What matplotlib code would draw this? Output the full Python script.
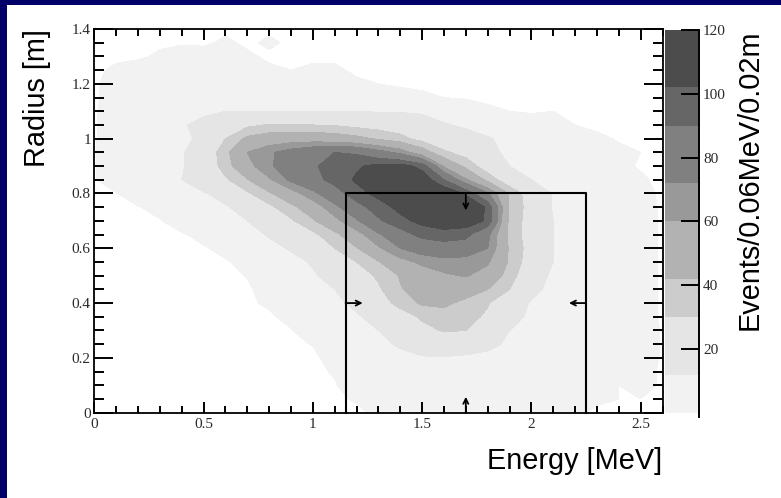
import numpy as np
import matplotlib
matplotlib.use("Agg")
from matplotlib import pyplot as plt
from matplotlib.colors import ListedColormap, BoundaryNorm
from matplotlib.cm import ScalarMappable
from matplotlib.patches import Rectangle
from matplotlib.ticker import MultipleLocator, FormatStrFormatter

# grid of the event map: energy [MeV] along x, radius [m] along y
energy = [0.0, 0.1, 0.2, 0.3, 0.4, 0.5, 0.6, 0.7, 0.8, 0.9, 1.0, 1.1, 1.2, 1.3,
          1.4, 1.5, 1.6, 1.7, 1.8, 1.9, 2.0, 2.1, 2.2, 2.3, 2.4, 2.5, 2.6]
radius = [1.40, 1.35, 1.30, 1.25, 1.20, 1.15, 1.10, 1.05, 1.00, 0.95, 0.90,
          0.85, 0.80, 0.75, 0.70, 0.65, 0.60, 0.55, 0.50, 0.45, 0.40, 0.35,
          0.30, 0.25, 0.20, 0.15, 0.10, 0.05, 0.00]

# events / 0.06 MeV / 0.02 m, one row per radius (top row = largest radius)
counts = [
    [0, 0, 0, 0, 0, 0, 0, 0, 0, 0, 0, 0, 0, 0, 0, 0, 0, 0, 0, 0, 0, 0, 0, 0, 0, 0, 0],
    [0, 0, 0, 0, 0, 0, 1, 0, 1, 0, 0, 0, 0, 0, 0, 0, 0, 0, 0, 0, 0, 0, 0, 0, 0, 0, 0],
    [0, 0, 0, 1, 3, 2, 2, 1, 0, 0, 0, 0, 0, 0, 0, 0, 0, 0, 0, 0, 0, 0, 0, 0, 0, 0, 0],
    [0, 1, 2, 3, 4, 4, 3, 2, 1, 0.5, 1, 1, 0, 0, 0, 0, 0, 0, 0, 0, 0, 0, 0, 0, 0, 0, 0],
    [0, 2, 3, 4, 5, 5, 4, 3, 2, 2, 3, 2, 1, 0.5, 0, 0, 0, 0, 0, 0, 0, 0, 0, 0, 0, 0, 0],
    [0, 2, 4, 5, 6, 7, 7, 7, 6, 6, 6, 5, 4, 3, 2, 1, 0.5, 0, 0, 0, 0, 0, 0, 0, 0, 0, 0],
    [0, 3, 5, 6, 8, 10, 12, 12, 12, 12, 12, 12, 12, 11, 11, 10, 7, 4, 1, 0.5, 0, 0.5, 0, 0, 0, 0, 0],
    [0, 4, 6, 8, 11, 15, 22, 27, 31, 31, 30, 29, 26, 24, 22, 19, 13, 10, 7, 5, 3, 1.5, 0.5, 0, 0, 0, 0],
    [0, 4, 6, 8, 10, 14, 30, 45, 50, 52, 52, 50, 46, 40, 34, 25, 20, 17, 13, 9, 6, 4, 3, 1, 0.3, 0, 0],
    [0, 5, 7, 9, 11, 18, 38, 60, 70, 78, 85, 90, 88, 78, 68, 50, 32, 25, 16, 9, 7, 5, 4, 3, 1, 0.5, 0],
    [0, 5, 7, 9, 11, 18, 36, 55, 70, 80, 88, 96, 100, 106, 107, 98, 58, 38, 22, 12, 8, 6, 4, 3, 1, 0.3, 0],
    [0, 4, 7, 9, 12, 20, 28, 41, 58, 75, 86, 94, 104, 112, 116, 110, 90, 62, 38, 20, 12, 7, 5, 4, 2, 0.8, 0],
    [0, 0.3, 3, 7, 9, 11, 16, 28, 40, 54, 68, 84, 97, 106, 112, 116, 114, 100, 74, 40, 22, 11, 7, 5, 3, 1.5, 0],
    [0, 0, 0.3, 2, 7, 9, 11, 16, 27, 38, 52, 68, 85, 96, 106, 114, 118, 114, 100, 40, 24, 11, 7, 5, 3, 2, 0],
    [0, 0, 0, 0.2, 3, 6, 9, 12, 18, 28, 40, 56, 70, 88, 98, 106, 112, 110, 100, 38, 24, 12, 8, 6, 4, 2, 0],
    [0, 0, 0, 0, 0, 2, 5, 8, 13, 20, 27, 38, 55, 70, 84, 94, 96, 94, 76, 38, 23, 12, 8, 6, 4, 2, 0],
    [0, 0, 0, 0, 0, 0, 2, 6, 9, 13, 20, 30, 41, 58, 72, 80, 84, 82, 72, 40, 24, 12, 8, 5, 3, 2, 0],
    [0, 0, 0, 0, 0, 0, 0, 2, 6, 9, 13, 20, 30, 41, 55, 63, 67, 66, 62, 40, 22, 12, 8, 5, 3, 2, 0],
    [0, 0, 0, 0, 0, 0, 0, 0.6, 4, 8, 11, 15, 23, 32, 43, 52, 58, 61, 54, 36, 18, 10, 7, 5, 3, 2, 0],
    [0, 0, 0, 0, 0, 0, 0, 0, 2, 5, 8, 12, 19, 28, 41, 48, 52, 50, 42, 30, 15, 9, 6, 4, 3, 2, 0],
    [0, 0, 0, 0, 0, 0, 0, 0, 1, 3, 6, 10, 14, 24, 34, 44, 45, 38, 31, 19, 11, 8, 6, 4, 3, 2, 0],
    [0, 0, 0, 0, 0, 0, 0, 0, 0, 1.5, 4, 8, 11, 15, 24, 32, 36, 34, 28, 16, 10, 7, 5, 4, 3, 2, 0],
    [0, 0, 0, 0, 0, 0, 0, 0, 0, 0.3, 3, 6, 9, 12, 18, 26, 31, 30, 20, 12, 8, 6, 5, 4, 3, 2, 0.3],
    [0, 0, 0, 0, 0, 0, 0, 0, 0, 0, 0.6, 5, 8, 10, 13, 18, 21, 19, 15, 10, 7, 6, 5, 4, 3, 2, 0.3],
    [0, 0, 0, 0, 0, 0, 0, 0, 0, 0, 0, 1.5, 5, 8, 10, 11, 11, 10, 9, 8, 6, 5, 4, 3, 2, 1.5, 0.3],
    [0, 0, 0, 0, 0, 0, 0, 0, 0, 0, 0, 0.7, 3, 5, 7, 8, 8, 8, 7, 6, 5, 4, 3, 2, 1, 1, 0.3],
    [0, 0, 0, 0, 0, 0, 0, 0, 0, 0, 0, 0.3, 2, 4, 5, 6, 6, 6, 5, 5, 4, 3, 2, 1, 0.5, 1, 0.3],
    [0, 0, 0, 0, 0, 0, 0, 0, 0, 0, 0, 0, 0.8, 2, 3, 3, 2, 3, 3, 3, 2, 2, 1, 1, 0.5, 0.5, 0],
    [0, 0, 0, 0, 0, 0, 0, 0, 0, 0, 0, 0, 0, 1, 2, 1, 2, 2, 2, 2, 1, 1, 1, 0, 0, 0, 0],
]

# contour bands of the palette and the colour-bar labels
band_edges = [0, 12, 30, 42, 60, 72, 90, 102, 120]
cbar_ticks = [20, 40, 60, 80, 100, 120]

# selection cuts (fiducial energy window and radius cut)
e_low, e_high = 1.15, 2.25
r_cut = 0.8
arrow_e = 1.7
arrow_r = 0.4

band_colors = ['#f2f2f2', '#e5e5e5', '#cccccc', '#b2b2b2',
               '#999999', '#808080', '#666666', '#4c4c4c']
navy = '#000068'
title_font = dict(family='Liberation Sans', size=20.8)
tick_font = 'Liberation Serif'

W, H = 781, 498
fig = plt.figure(figsize=(W / 100, H / 100), dpi=100)
fig.patch.set_facecolor('white')
# slide frame: navy strip along the left and top edges
for x0, y0, w, h in [(0, 0, 7 / W, 1), (0, 1 - 5 / H, 1, 5 / H)]:
    fig.add_artist(Rectangle((x0, y0), w, h, transform=fig.transFigure,
                             facecolor=navy, edgecolor='none', zorder=-10))

ax = fig.add_axes([94.3 / W, 1 - 412.7 / H, 568.2 / W, 383.7 / H])
cax = fig.add_axes([665 / W, 1 - 413 / H, 34 / W, 383 / H])

# filled contours; empty bins (below the first cut) stay white
z = np.flipud(np.array(counts, dtype=float))
r = np.array(radius)[::-1]
levels = [0.5] + band_edges[1:]
ax.contourf(energy, r, z, levels=levels, colors=band_colors)

ax.set_xlim(0, 2.6)
ax.set_ylim(0, 1.4)
ax.xaxis.set_major_locator(MultipleLocator(0.5))
ax.xaxis.set_minor_locator(MultipleLocator(0.1))
ax.yaxis.set_major_locator(MultipleLocator(0.2))
ax.yaxis.set_minor_locator(MultipleLocator(0.05))
ax.xaxis.set_major_formatter(FormatStrFormatter('%g'))
ax.yaxis.set_major_formatter(FormatStrFormatter('%g'))
ax.tick_params(which='both', direction='in', top=True, right=True,
               width=1.4, color='black', labelcolor='#2a2a2a', labelsize=11)
ax.tick_params(axis='x', which='major', length=8, pad=4)
ax.tick_params(axis='x', which='minor', length=5)
ax.tick_params(axis='y', which='major', length=13.5, pad=2.5)
ax.tick_params(axis='y', which='minor', length=7)
for lab in ax.get_xticklabels() + ax.get_yticklabels():
    lab.set_family(tick_font)
for sp in ax.spines.values():
    sp.set_linewidth(1.3)

# cut box with arrows pointing into the accepted region
ax.plot([e_low, e_low, e_high, e_high], [0, r_cut, r_cut, 0],
        color='black', lw=1.5, clip_on=False, zorder=5)
arrow_kw = dict(arrowstyle='->', color='black', lw=1.3, mutation_scale=9,
                shrinkA=0, shrinkB=0)
ax.annotate('', xy=(arrow_e, r_cut - 0.062), xytext=(arrow_e, r_cut), arrowprops=arrow_kw)
ax.annotate('', xy=(arrow_e, 0.058), xytext=(arrow_e, 0), arrowprops=arrow_kw)
ax.annotate('', xy=(e_low + 0.078, arrow_r), xytext=(e_low, arrow_r), arrowprops=arrow_kw)
ax.annotate('', xy=(e_high - 0.078, arrow_r), xytext=(e_high, arrow_r), arrowprops=arrow_kw)

ax.set_xlabel('Energy [MeV]', loc='right', **title_font)
ax.xaxis.set_label_coords(1.0, -0.089)
ax.set_ylabel('Radius [m]', loc='top', **title_font)
ax.yaxis.set_label_coords(-0.076, 1.0)

# colour bar with the same band edges
norm = BoundaryNorm(band_edges, len(band_colors))
sm = ScalarMappable(norm=norm, cmap=ListedColormap(band_colors))
cb = fig.colorbar(sm, cax=cax, spacing='proportional', ticks=cbar_ticks)
cb.outline.set_visible(False)
cax.plot([1, 1], [-0.01, 1], transform=cax.transAxes, color='black', lw=1.4,
         clip_on=False)
cax.yaxis.set_ticks_position('right')
cax.yaxis.set_major_formatter(FormatStrFormatter('%g'))
cax.tick_params(which='major', direction='in', length=13, width=1.4,
                labelsize=11, labelcolor='#2a2a2a', pad=3)
cax.minorticks_off()
for lab in cax.get_yticklabels():
    lab.set_family(tick_font)

fig.text(750 / W, 1 - 30 / H, 'Events/0.06MeV/0.02m', rotation=90,
         rotation_mode='anchor', ha='right', va='center', **title_font)

fig.savefig('out.png', dpi=100)
